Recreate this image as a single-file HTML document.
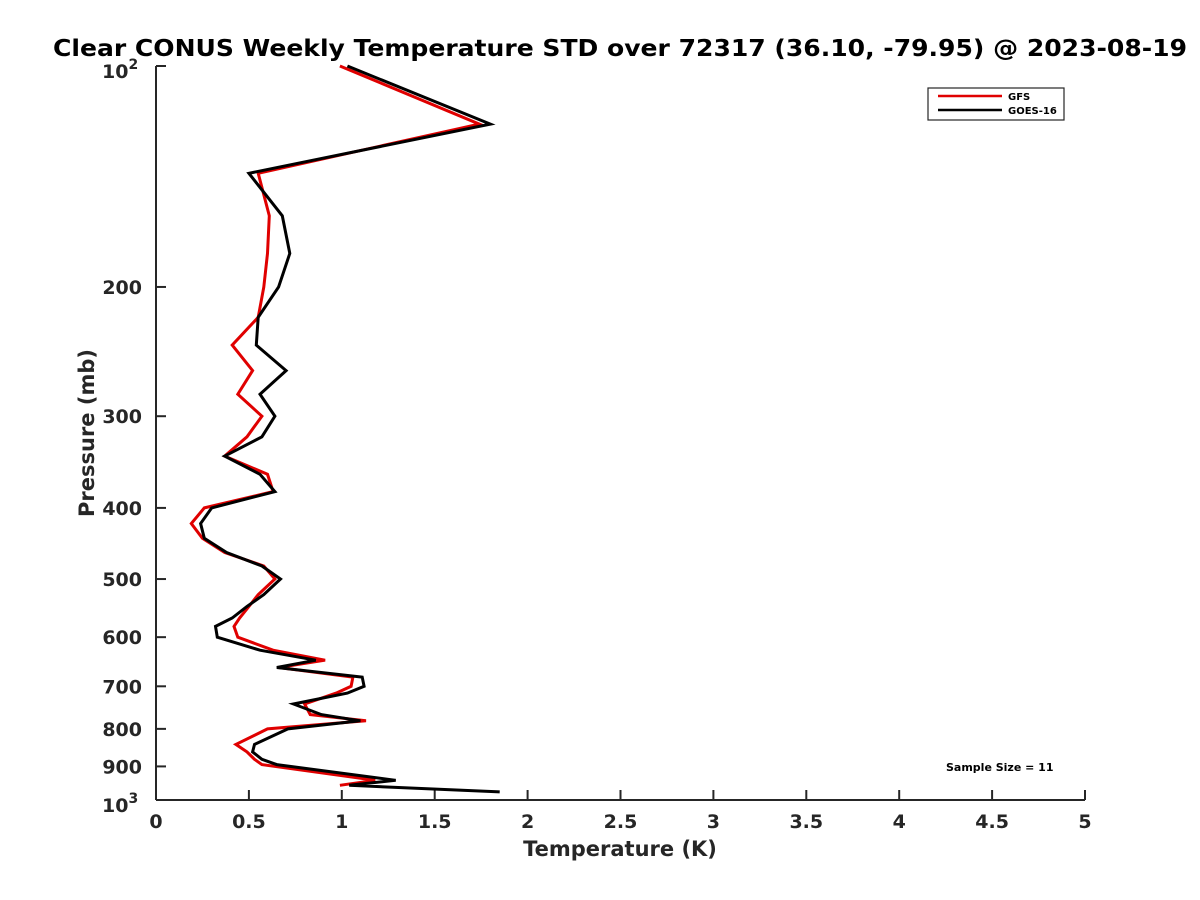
<!DOCTYPE html>
<html><head><meta charset="utf-8"><style>
body{margin:0;background:#fff;}
svg{display:block;font-family:"DejaVu Sans","Liberation Sans",sans-serif;font-weight:bold;}
</style></head><body>
<svg id="chart" width="1200" height="900" viewBox="0 0 1200 900" xmlns="http://www.w3.org/2000/svg">
<rect width="1200" height="900" fill="#fff"/>
<text x="620" y="56" text-anchor="middle" font-size="23" textLength="1134" lengthAdjust="spacingAndGlyphs" fill="#000">Clear CONUS Weekly Temperature STD over 72317 (36.10, -79.95) @ 2023-08-19</text>
<g id="axes"></g>
<g id="series"></g>
<text x="620" y="856" text-anchor="middle" font-size="21" fill="#262626">Temperature (K)</text>
<text transform="translate(94,433) rotate(-90)" text-anchor="middle" font-size="21" fill="#262626">Pressure (mb)</text>
<g>
<rect x="928" y="88" width="136" height="32" fill="#fff" stroke="#262626" stroke-width="1.2"/>
<line x1="938" y1="96" x2="1002" y2="96" stroke="#e00000" stroke-width="2.5"/>
<text x="1008" y="100" font-size="10" fill="#000">GFS</text>
<line x1="938" y1="110" x2="1002" y2="110" stroke="#000" stroke-width="2.5"/>
<text x="1008" y="114" font-size="10" fill="#000">GOES-16</text>
</g>
<text x="946" y="771" font-size="11" fill="#000">Sample Size = 11</text>
</svg>
<script>
const pressures=[100,120,140,160,180,200,220,240,260,280,300,320,340,360,380,400,420,440,460,480,500,525,545,565,580,600,625,645,660,680,700,715,740,765,780,800,840,860,880,895,940,955,975];
const goesValues=[1.03,1.80,0.50,0.68,0.72,0.66,0.55,0.54,0.70,0.56,0.64,0.57,0.37,0.56,0.64,0.30,0.24,0.26,0.38,0.57,0.67,0.58,0.49,0.41,0.32,0.33,0.56,0.86,0.65,1.11,1.12,1.03,0.74,0.89,1.10,0.71,0.53,0.52,0.57,0.65,1.29,1.04,1.85];
const gfsValues=[0.99,1.74,0.55,0.61,0.60,0.58,0.55,0.41,0.52,0.44,0.57,0.49,0.37,0.60,0.63,0.26,0.19,0.25,0.37,0.58,0.64,0.55,0.50,0.45,0.42,0.44,0.63,0.91,0.66,1.06,1.05,0.97,0.80,0.83,1.13,0.60,0.43,0.49,0.53,0.57,1.18,0.99,null];
const xTicks=[0,0.5,1,1.5,2,2.5,3,3.5,4,4.5,5];
const xTickLabels=["0","0.5","1","1.5","2","2.5","3","3.5","4","4.5","5"];
const yTicks=[200,300,400,500,600,700,800,900];
const yTickLabels=["200","300","400","500","600","700","800","900"];

const X0=156,X1=1085,Y0=66,Y1=800;
function xs(v){return X0+(v/5)*(X1-X0);}
function ys(p){return Y0+(Math.log10(p)-2)*(Y1-Y0);}
const NS="http://www.w3.org/2000/svg";
function mk(tag,attrs,parent){const e=document.createElementNS(NS,tag);for(const k in attrs)e.setAttribute(k,attrs[k]);parent.appendChild(e);return e;}
const ax=document.getElementById('axes');
const col="#262626";
const yAxis=mk('line',{x1:X0,y1:Y0,x2:X0,y2:Y1,stroke:col,'stroke-width':2},ax);


const xAxis=mk('line',{x1:X0,y1:Y1,x2:X1,y2:Y1,stroke:col,'stroke-width':2},ax);


xTicks.forEach((v,i)=>{
  const t=mk('line',{x1:xs(v),y1:Y1,x2:xs(v),y2:Y1-10,stroke:col,'stroke-width':2},ax);
  
  
  const l=mk('text',{x:xs(v),y:Y1+28,'text-anchor':'middle','font-size':19,fill:col},ax);
  
  
  l.textContent=xTickLabels[i];
});
[100,1000].concat(yTicks).forEach(p=>{
  const t=mk('line',{x1:X0,y1:ys(p),x2:X0+10,y2:ys(p),stroke:col,'stroke-width':2},ax);
  
  
});
yTicks.forEach((p,i)=>{
  const l=mk('text',{x:X0-14,y:ys(p)+7,'text-anchor':'end','font-size':19,fill:col},ax);
  
  
  l.textContent=yTickLabels[i];
});
[[100,"2"],[1000,"3"]].forEach(([p,e])=>{
  const l=mk('text',{x:X0-54,y:ys(p)+12,'font-size':19,fill:col},ax);
  
  
  l.textContent="10";
  const s=mk('tspan',{dy:-9,'font-size':14},l);
  s.textContent=e;
});
const sg=document.getElementById('series');
function drawLine(vals,color,name){
  const pts=[];
  vals.forEach((v,i)=>{if(v!==null)pts.push(xs(v).toFixed(1)+','+ys(pressures[i]).toFixed(1));});
  const pl=mk('polyline',{points:pts.join(' '),fill:'none',stroke:color,'stroke-width':3,'stroke-linejoin':'miter'},sg);
  
  
}
drawLine(gfsValues,'#e00000','gfs-line');
drawLine(goesValues,'#000000','goes16-line');
</script>
</body></html>
